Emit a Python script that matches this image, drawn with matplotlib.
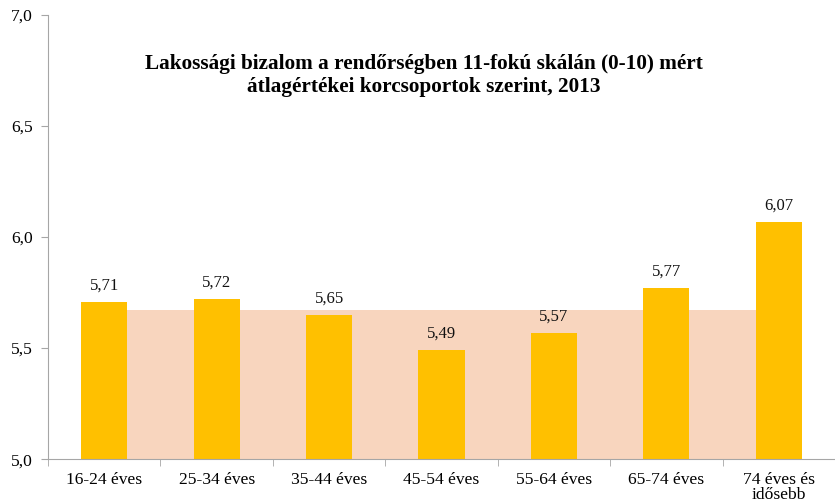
import matplotlib.pyplot as plt
import numpy as np

# adatok
categories = ['16-24 éves', '25-34 éves', '35-44 éves', '45-54 éves',
              '55-64 éves', '65-74 éves', '74 éves és\nidősebb']
values = [5.71, 5.72, 5.65, 5.49, 5.57, 5.77, 6.07]
overall_avg = [5.67] * len(categories)
y_ticks = [5.0, 5.5, 6.0, 6.5, 7.0]

title = ('Lakossági bizalom a rendőrségben 11-fokú skálán (0-10) mért\n'
         'átlagértékei korcsoportok szerint, 2013')

plt.rcParams['font.family'] = ['Liberation Serif', 'DejaVu Serif']

fig = plt.figure(figsize=(8.35, 5.04), dpi=100)
ax = fig.add_axes([0.0575, 0.089, 0.9425, 0.881])

x = np.arange(len(categories))

# átlag sáv a háttérben
ax.fill_between(x, 5.0, overall_avg, color='#F8D5BE', linewidth=0, zorder=1)

bars = ax.bar(x, values, width=0.41, color='#FFC000', zorder=2)

for xi, v in zip(x, values):
    ax.annotate(f'{v:.2f}'.replace('.', ','), (xi, v), xytext=(0, 6),
                textcoords='offset points', ha='center', va='bottom',
                fontsize=12, color='#111111')

ax.set_ylim(5.0, 7.0)
ax.set_xlim(-0.5, len(categories) - 0.5)
ax.set_yticks(y_ticks)
ax.set_yticklabels([f'{t:.1f}'.replace('.', ',') for t in y_ticks], fontsize=12.6)

ax.set_xticks(x)
ax.set_xticklabels(categories, fontsize=12.6, linespacing=0.95)
ax.set_xticks(np.arange(len(categories) + 1) - 0.5, minor=True)
ax.tick_params(axis='x', which='major', length=0, pad=9)
ax.tick_params(axis='x', which='minor', length=5, color='#A6A6A6')
ax.tick_params(axis='y', length=5, color='#A6A6A6', pad=6)

for s in ['top', 'right']:
    ax.spines[s].set_visible(False)
for s in ['left', 'bottom']:
    ax.spines[s].set_color('#A6A6A6')

ax.text(0.478, 0.865, title, transform=ax.transAxes, ha='center', va='center',
        fontsize=15.3, fontweight='bold', linespacing=1.2)

fig.savefig('out.png', dpi=100)
